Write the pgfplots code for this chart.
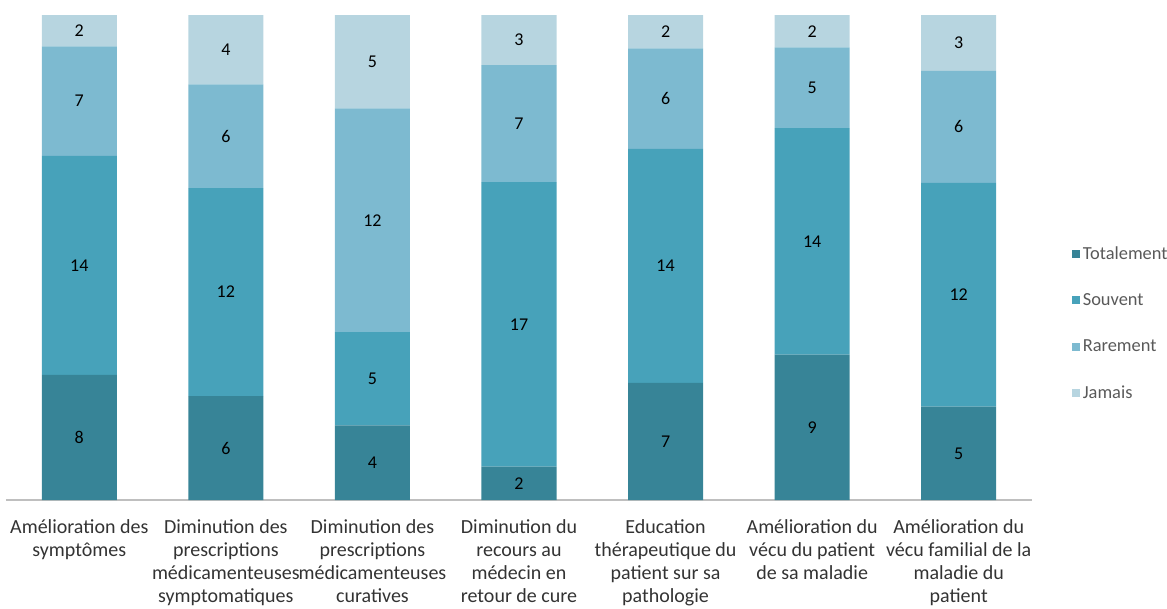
\documentclass[border=0pt]{standalone}
\usepackage{pgfplots}
\usepackage{pgfplotstable}
\pgfplotsset{compat=1.18}
\usepackage{fontspec}
\setmainfont{Carlito}
\definecolor{cT}{HTML}{378497}
\definecolor{cS}{HTML}{47A2BA}
\definecolor{cR}{HTML}{7DBAD0}
\definecolor{cJ}{HTML}{B7D5E0}
\definecolor{axisgray}{HTML}{BFBFBF}
\definecolor{txt}{HTML}{333333}
\definecolor{legtxt}{HTML}{595959}

\pgfplotstableread{
X T S R J
0 8 14 7 2
1 6 12 6 4
2 4 5 12 5
3 2 17 7 3
4 7 14 6 2
5 9 14 5 2
6 5 12 6 3
}\data
\pgfplotstablecreatecol[create col/expr={\thisrow{T}+\thisrow{S}+\thisrow{R}+\thisrow{J}}]{N}\data
\pgfplotstablecreatecol[create col/expr={100*\thisrow{T}/\thisrow{N}}]{pT}\data
\pgfplotstablecreatecol[create col/expr={100*\thisrow{S}/\thisrow{N}}]{pS}\data
\pgfplotstablecreatecol[create col/expr={100*\thisrow{R}/\thisrow{N}}]{pR}\data
\pgfplotstablecreatecol[create col/expr={100*\thisrow{J}/\thisrow{N}}]{pJ}\data
\pgfplotstablecreatecol[create col/expr={\thisrow{pT}/2}]{mT}\data
\pgfplotstablecreatecol[create col/expr={\thisrow{pT}+\thisrow{pS}/2}]{mS}\data
\pgfplotstablecreatecol[create col/expr={\thisrow{pT}+\thisrow{pS}+\thisrow{pR}/2}]{mR}\data
\pgfplotstablecreatecol[create col/expr={\thisrow{pT}+\thisrow{pS}+\thisrow{pR}+\thisrow{pJ}/2}]{mJ}\data

\pgfplotsset{
  sq legend/.style={legend image code/.code={\fill[##1] (0pt,-3pt) rectangle (6pt,3pt);}},
  common/.style={
    at={(4.5pt,81pt)}, anchor=south west,
    scale only axis, width=769.5pt, height=363.75pt,
    xmin=-0.5, xmax=6.5, ymin=0, ymax=100,
  }
}

\begin{document}
\begin{tikzpicture}
\useasboundingbox (0,0) rectangle (875.25pt,456pt);
\begin{axis}[common,
  ybar stacked, bar width=0.512,
  axis y line=none,
  axis x line*=bottom,
  x axis line style={axisgray,-, line width=0.8pt},
  xtick={0,...,6},
  xtick style={draw=none},
  xticklabels={{Amélioration des\\symptômes},
    {Diminution des\\prescriptions\\médicamenteuses\\symptomatiques},
    {Diminution des\\prescriptions\\médicamenteuses\\curatives},
    {Diminution du\\recours au\\médecin en\\retour de cure},
    {Education\\thérapeutique du\\patient sur sa\\pathologie},
    {Amélioration du\\vécu du patient\\de sa maladie},
    {Amélioration du\\vécu familial de la\\maladie du\\patient}},
  xticklabel style={align=center, anchor=north, text=txt,
    font=\fontsize{15}{17.25}\selectfont, yshift=-11pt},
  legend style={at={(1.035,0.364)}, anchor=west, draw=none, fill=none,
    font=\fontsize{13.8}{16}\selectfont, text=legtxt, row sep=20.25pt},
  legend cell align=left,
]
\addplot[fill=cT, draw=none, sq legend] table[x=X,y=pT]{\data};
\addplot[fill=cS, draw=none, sq legend] table[x=X,y=pS]{\data};
\addplot[fill=cR, draw=none, sq legend] table[x=X,y=pR]{\data};
\addplot[fill=cJ, draw=none, sq legend] table[x=X,y=pJ]{\data};
\legend{Totalement,Souvent,Rarement,Jamais}
\end{axis}
\begin{axis}[common, hide axis,
  nodes near coords,
  every node near coord/.append style={anchor=center, text=black,
    font=\fontsize{13.5}{16}\selectfont},
  point meta=explicit symbolic]
\addplot[only marks, mark=none] table[x=X,y=mT,meta=T]{\data};
\addplot[only marks, mark=none] table[x=X,y=mS,meta=S]{\data};
\addplot[only marks, mark=none] table[x=X,y=mR,meta=R]{\data};
\addplot[only marks, mark=none] table[x=X,y=mJ,meta=J]{\data};
\end{axis}
\end{tikzpicture}
\end{document}
